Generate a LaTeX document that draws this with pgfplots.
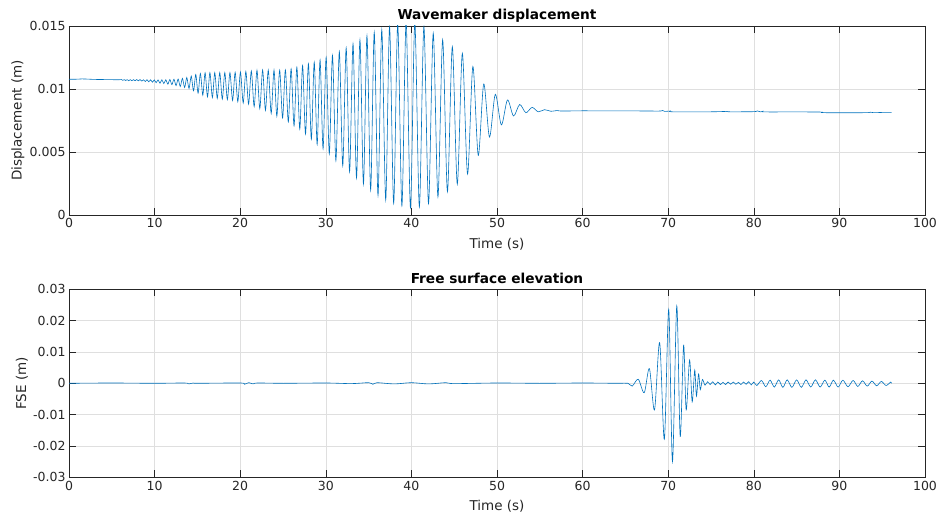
\documentclass[border=0pt]{standalone}
\usepackage{pgfplots}
\pgfplotsset{compat=1.18}
\usepackage{fontspec}
\setmainfont{DejaVu Sans}
\definecolor{mlblue}{rgb}{0,0.447,0.741}
\definecolor{axgray}{rgb}{0.15,0.15,0.15}
\definecolor{gridgray}{rgb}{0.875,0.875,0.875}
\pgfplotsset{
  mlstyle/.style={
    scale only axis, width=856pt,
    xmin=0, xmax=100, xtick={0,10,...,100},
    enlargelimits=false,
    axis line style={axgray, line width=0.6pt},
    tick style={axgray, line width=0.6pt},
    major tick length=7pt,
    tick align=inside,
    grid=major,
    major grid style={gridgray, line width=0.6pt},
    ticklabel style={font=\fontsize{12.5}{15}\selectfont, text=axgray},
    label style={font=\fontsize{13.5}{16}\selectfont, text=axgray},
    title style={font=\bfseries\fontsize{13.7}{16}\selectfont, text=black, at={(axis description cs:0.5,1)}, anchor=base, yshift=0pt},
    /pgf/number format/assume math mode=true,
    scaled y ticks=false,
    xlabel style={at={(axis description cs:0.5,-0.155)}, anchor=center},
  }
}
\begin{document}
\begin{tikzpicture}[x=1pt,y=1pt]
\useasboundingbox (0,0) rectangle (942,522);
\begin{axis}[mlstyle, at={(69pt,307pt)}, anchor=south west, height=189pt,
  ymin=0, ymax=0.015, ytick={0,0.005,0.01,0.015}, yticklabels={0,0.005,0.01,0.015},
  title={Wavemaker displacement}, xlabel={Time (s)}, ylabel={Displacement (m)},
  ylabel style={at={(axis description cs:-0.0596,0.5)}, anchor=center}]
\addplot[mlblue, line width=0.6pt, smooth, tension=0.5] table {
0 0.01077
0.5 0.01077
1.0 0.01078
1.5 0.01080
2.0 0.01079
3.0 0.01076
4.0 0.01075
5.0 0.01074
5.8 0.01073
6.11 0.01075
6.28 0.01069
6.45 0.01074
6.63 0.01068
6.80 0.01074
6.98 0.01066
7.16 0.01074
7.35 0.01066
7.53 0.01074
7.72 0.01066
7.91 0.01075
8.10 0.01065
8.30 0.01075
8.50 0.01063
8.70 0.01073
8.91 0.01059
9.11 0.01074
9.32 0.01057
9.53 0.01073
9.75 0.01054
9.96 0.01072
10.18 0.01050
10.40 0.01072
10.63 0.01046
10.85 0.01073
11.08 0.01043
11.31 0.01073
11.55 0.01038
11.78 0.01075
12.02 0.01035
12.26 0.01077
12.51 0.01027
12.75 0.01079
13.00 0.01020
13.25 0.01084
13.51 0.01012
13.76 0.01091
14.02 0.01004
14.28 0.01102
14.55 0.00985
14.81 0.01115
15.08 0.00967
15.35 0.01123
15.63 0.00951
15.90 0.01129
16.18 0.00938
16.46 0.01130
16.75 0.00932
17.03 0.01130
17.32 0.00926
17.61 0.01130
17.91 0.00920
18.20 0.01130
18.50 0.00916
18.80 0.01130
19.11 0.00909
19.41 0.01132
19.72 0.00899
20.03 0.01135
20.35 0.00889
20.66 0.01139
20.98 0.00880
21.30 0.01143
21.63 0.00861
21.96 0.01149
22.29 0.00844
22.62 0.01150
22.95 0.00831
23.28 0.01150
23.62 0.00806
23.95 0.01150
24.28 0.00784
24.61 0.01150
24.95 0.00770
25.28 0.01152
25.62 0.00739
25.95 0.01160
26.29 0.00708
26.62 0.01173
26.96 0.00681
27.29 0.01186
27.63 0.00642
27.97 0.01200
28.31 0.00602
28.65 0.01213
28.99 0.00560
29.33 0.01230
29.68 0.00526
30.04 0.01251
30.41 0.00485
30.78 0.01267
31.18 0.00431
31.58 0.01297
31.98 0.00391
32.38 0.01325
32.78 0.00343
33.18 0.01358
33.59 0.00294
33.99 0.01390
34.40 0.00246
34.81 0.01422
35.24 0.00198
35.66 0.01449
36.10 0.00156
36.54 0.01471
37.00 0.00120
37.45 0.01494
37.93 0.00092
38.40 0.01518
38.89 0.00072
39.38 0.01534
39.89 0.00057
40.40 0.01527
40.93 0.00064
41.46 0.01494
42.00 0.00090
42.55 0.01443
43.10 0.00144
43.65 0.01391
44.21 0.00185
44.78 0.01336
45.36 0.00245
45.95 0.01283
46.56 0.00325
47.18 0.01179
47.81 0.00473
48.45 0.01040
49.12 0.00619
49.80 0.00958
50.51 0.00715
51.22 0.00913
51.93 0.00786
52.65 0.00877
53.37 0.00812
54.10 0.00854
54.82 0.00819
55.55 0.00836
56.30 0.00823
57.00 0.00829
57.6 0.00825
60 0.00827
63 0.00826
66 0.00826
69 0.00825
69.3 0.00830
69.6 0.00822
70.2 0.00825
70.5 0.00819
75 0.00819
76.8 0.00822
77.2 0.00819
80 0.00820
80.4 0.00826
80.8 0.00818
81.0 0.00822
81.3 0.00818
85 0.00818
87.8 0.00817
88.2 0.00812
93 0.00812
93.6 0.00816
94.0 0.00812
95 0.00814
96.1 0.00815
};
\end{axis}
\begin{axis}[mlstyle, at={(69pt,44.7pt)}, anchor=south west, height=188pt,
  ymin=-0.03, ymax=0.03, ytick={-0.03,-0.02,-0.01,0,0.01,0.02,0.03},
  yticklabels={-0.03,-0.02,-0.01,0,0.01,0.02,0.03},
  title={Free surface elevation}, xlabel={Time (s)}, ylabel={FSE (m)},
  ylabel style={at={(axis description cs:-0.0549,0.5)}, anchor=center}]
\addplot[mlblue, line width=0.6pt, smooth, tension=0.5] table {
0 0
5 0.0001
10 0
13.5 0.0001
14 -0.0002
14.5 0.0001
15 0
20 0.0001
20.5 -0.0003
21 0.0002
21.5 -0.0002
22 0.0001
25 0
30 0.0001
33 -0.0001
35 0.0002
35.5 -0.0003
36 0.0002
38 -0.0002
40 0.0002
42 -0.0002
44 0.0002
45 -0.0001
50 0.0001
55 0
60 0.0001
64 0
65.3 0
65.8 -0.0009
66.5 0.0013
67.2 -0.0030
67.8 0.0047
68.4 -0.0085
69.0 0.0130
69.55 -0.0179
70.06 0.0236
70.5 -0.0250
71.0 0.0247
71.4 -0.0170
71.8 0.0122
72.1 -0.0085
72.5 0.0074
72.8 -0.0059
73.1 0.0042
73.3 -0.0041
73.55 0.0030
73.75 -0.0020
74.0 0.0012
74.3 -0.0006
74.6 0.0005
74.9 -0.0004
75.2 0.0005
75.5 -0.0005
75.8 0.0004
76.1 -0.0004
76.4 0.0003
76.7 -0.0004
77.0 0.0004
77.3 -0.0003
77.6 0.0004
77.9 -0.0003
78.2 0.0003
78.5 -0.0004
78.8 0.0004
79.1 -0.0003
79.4 0.0005
79.7 -0.0005
80.0 0.0004
80.35 -0.0007
80.9 0.0009
81.4 -0.0011
81.9 0.0010
82.4 -0.0012
82.9 0.0011
83.4 -0.0013
83.9 0.0011
84.45 -0.0013
85.0 0.0011
85.55 -0.0013
86.1 0.0011
86.65 -0.0012
87.2 0.0011
87.75 -0.0012
88.3 0.0010
88.8 -0.0012
89.3 0.0010
89.85 -0.0012
90.4 0.0010
91.0 -0.0011
91.6 0.0009
92.15 -0.0010
92.7 0.0008
93.25 -0.0009
93.8 0.0007
94.35 -0.0008
94.9 0.0006
95.45 -0.0007
96.0 0.0004
96.1 0.0
};
\end{axis}
\end{tikzpicture}
\end{document}
